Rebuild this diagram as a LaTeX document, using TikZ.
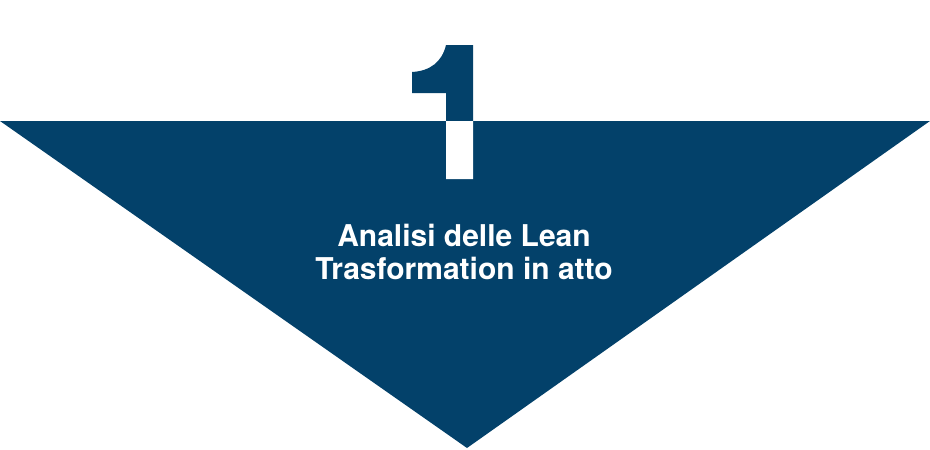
\documentclass[tikz,border=0pt]{standalone}
\usepackage{fontspec}
\setmainfont{TeX Gyre Heros}
\definecolor{navy}{HTML}{03416A}
\begin{document}
\begin{tikzpicture}[x=1pt,y=-1pt,
  lbl/.style={text=white,font=\fontsize{30}{33}\selectfont\bfseries,align=center}]
\useasboundingbox (0,0) rectangle (930,450);
\def\one{(446,45) -- (473,45) -- (473,179) -- (446,179) -- (446,93) -- (412,93) -- (412,72) .. controls (430,71) and (442,62) .. (446,45) -- cycle}
\def\tri{(0,121) -- (930,121) -- (467,448) -- cycle}
\fill[navy] \one;
\fill[navy] \tri;
\begin{scope}
  \clip \tri;
  \fill[white] \one;
\end{scope}
\node[lbl] (t) at (464,252) {Analisi delle Lean\\Trasformation in atto};
\end{tikzpicture}
\end{document}
